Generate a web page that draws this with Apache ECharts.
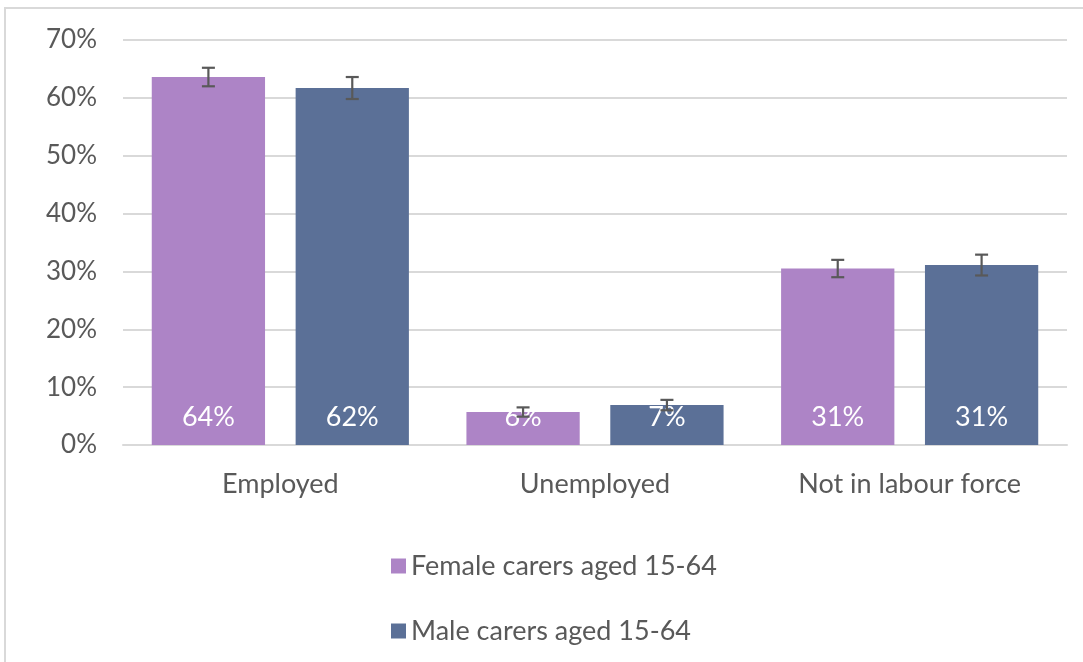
<!DOCTYPE html>
<html>
<head>
<meta charset="utf-8">
<script src="https://cdn.jsdelivr.net/npm/echarts@6/dist/echarts.min.js"></script>
<style>
html, body { margin: 0; padding: 0; background: #fff; }
#chart { width: 1083px; height: 662px; }
</style>
</head>
<body>
<div id="chart"></div>
<script>
// categories and series
var categories = ['Employed', 'Unemployed', 'Not in labour force'];
var seriesNames = ['Female carers aged 15-64', 'Male carers aged 15-64'];
var femaleValues = [63.6, 5.7, 30.5];
var maleValues = [61.7, 6.9, 31.1];
// error bar half-widths (percentage points)
var femaleErr = [1.6, 0.8, 1.5];
var maleErr = [1.9, 0.9, 1.8];
var yTicks = [0, 10, 20, 30, 40, 50, 60, 70];

var colors = ['#ad84c6', '#5b7097'];
var textFont = 'Lato, "Open Sans", sans-serif';
var barWidthPct = 0.36;
var barGapPct = 0.27;

var chart = echarts.init(document.getElementById('chart'));

function errorSeries(vals, errs, side) {
    var data = [];
    for (var i = 0; i < vals.length; i++) {
        data.push([i, vals[i] - errs[i], vals[i] + errs[i]]);
    }
    return {
        type: 'custom',
        name: 'err' + side,
        z: 10,
        silent: true,
        renderItem: function (params, api) {
            var band = api.size([1, 0])[0];
            var bw = band * barWidthPct;
            var off = side * (bw + bw * barGapPct) / 2;
            var lo = api.coord([api.value(0), api.value(1)]);
            var hi = api.coord([api.value(0), api.value(2)]);
            var x = lo[0] + off;
            var cap = 6.5;
            var st = { stroke: '#595959', lineWidth: 2.2 };
            return {
                type: 'group',
                children: [
                    { type: 'line', shape: { x1: x, y1: lo[1], x2: x, y2: hi[1] }, style: st },
                    { type: 'line', shape: { x1: x - cap, y1: lo[1], x2: x + cap, y2: lo[1] }, style: st },
                    { type: 'line', shape: { x1: x - cap, y1: hi[1], x2: x + cap, y2: hi[1] }, style: st }
                ]
            };
        },
        data: data
    };
}

var barLabel = {
    show: true,
    position: 'insideBottom',
    distance: 14,
    color: '#fff',
    fontSize: 27,
    lineHeight: 27,
    fontFamily: textFont,
    formatter: function (p) { return Math.round(p.value) + '%'; }
};

var option = {
    animation: false,
    color: colors,
    graphic: [{
        type: 'rect',
        shape: { x: 5, y: 8, width: 1090, height: 670 },
        style: { fill: 'none', stroke: '#d9d9d9', lineWidth: 2 },
        silent: true
    }],
    grid: { left: 123, right: 16, top: 40, bottom: 217 },
    legend: {
        data: seriesNames,
        orient: 'vertical',
        left: 386,
        top: 547,
        itemGap: 37,
        itemWidth: 15,
        itemHeight: 15,
        icon: 'rect',
        textStyle: { color: '#595959', fontSize: 27, lineHeight: 28, fontFamily: textFont }
    },
    xAxis: {
        type: 'category',
        data: categories,
        axisLine: { lineStyle: { color: '#d9d9d9', width: 2 } },
        axisTick: { show: false },
        axisLabel: { color: '#595959', fontSize: 27, lineHeight: 27, fontFamily: textFont, margin: 26 }
    },
    yAxis: {
        type: 'value',
        min: yTicks[0],
        max: yTicks[yTicks.length - 1],
        interval: 10,
        axisLine: { show: false },
        axisTick: { show: false },
        splitLine: { lineStyle: { color: '#d9d9d9', width: 2 } },
        axisLabel: { color: '#595959', fontSize: 26, fontFamily: textFont, margin: 26,
            formatter: function (v) { return v + '%'; } }
    },
    series: [
        { name: seriesNames[0], type: 'bar', data: femaleValues,
          barWidth: (barWidthPct * 100) + '%', barGap: (barGapPct * 100) + '%', label: barLabel },
        { name: seriesNames[1], type: 'bar', data: maleValues,
          barWidth: (barWidthPct * 100) + '%', barGap: (barGapPct * 100) + '%', label: barLabel },
        errorSeries(femaleValues, femaleErr, -1),
        errorSeries(maleValues, maleErr, 1)
    ]
};
chart.setOption(option);
</script>
</body>
</html>
